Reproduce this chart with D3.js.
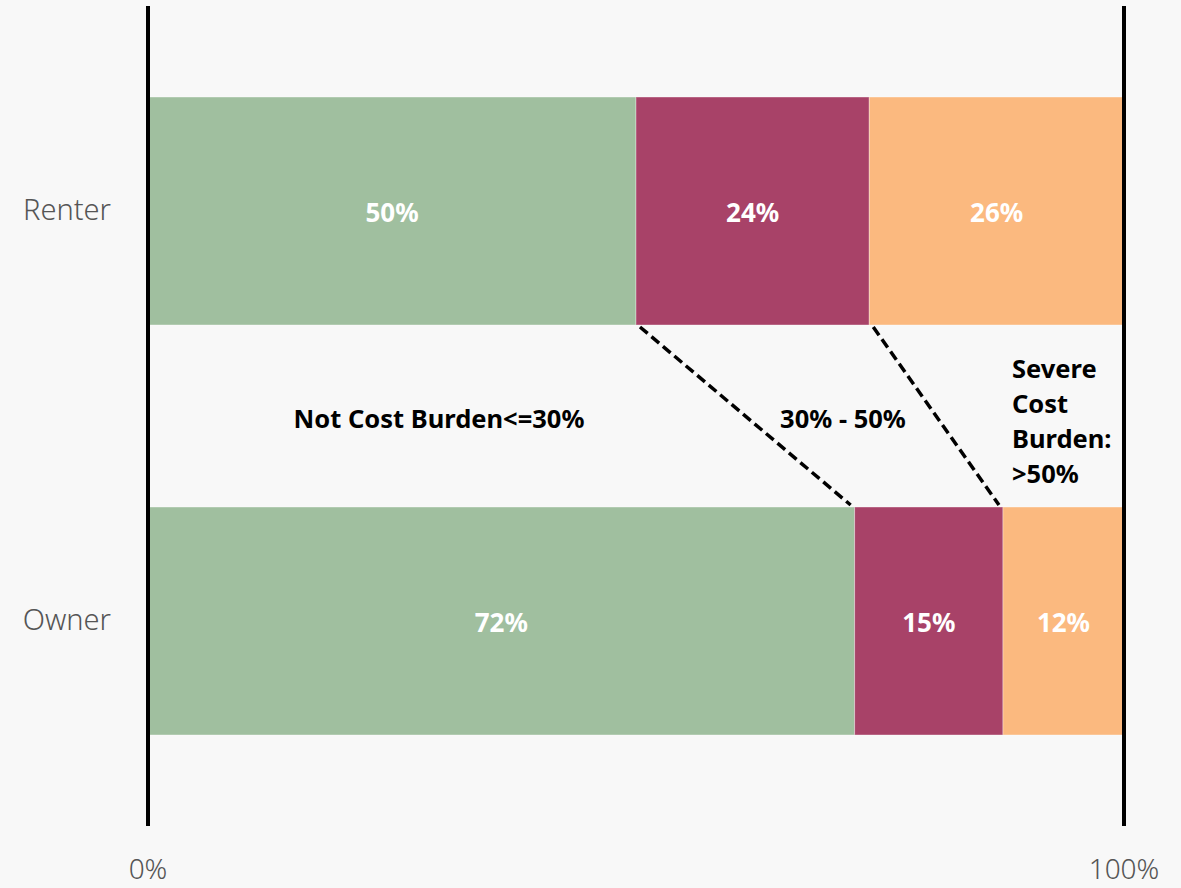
<!DOCTYPE html>
<html><head><meta charset="utf-8">
<script src="https://cdn.jsdelivr.net/npm/d3@7"></script>
<style>
html,body{margin:0;padding:0;background:#f8f8f8;}
svg{display:block;font-family:"Noto Sans",sans-serif;}
</style></head>
<body>
<svg id="chart" width="1181" height="888"></svg>
<script>
const categories = ["Renter", "Owner"];
const seriesNames = ["Not Cost Burden<=30%", "30% - 50%", "Severe Cost Burden: >50%"];
const renterValues = [50, 23.9, 26.1];
const ownerValues = [72.4, 15.2, 12.4];
const valueLabels = [["50%", "24%", "26%"], ["72%", "15%", "12%"]];
const colors = ["#a0bf9f", "#a84268", "#fbb97f"];
const tickLabels = ["0%", "100%"];
const tickValues = [0, 100];

const svg = d3.select("#chart");
const W = 1181, H = 888;
svg.append("rect").attr("width", W).attr("height", H).attr("fill", "#f8f8f8");

const x = d3.scaleLinear().domain([0, 100]).range([148, 1124]);
const y = d3.scaleBand().domain(categories).range([6, 826]).paddingInner(0.444).paddingOuter(0.222);

const rows = [renterValues, ownerValues].map((vals, i) => {
  let acc = 0;
  return vals.map((v, j) => { const d = {cat: categories[i], x0: acc, x1: acc + v, s: j, label: valueLabels[i][j]}; acc += v; return d; });
});

// bars
rows.forEach(row => {
  svg.append("g").selectAll("rect").data(row).join("rect")
    .attr("x", d => x(d.x0)).attr("y", d => y(d.cat))
    .attr("width", d => x(d.x1) - x(d.x0)).attr("height", y.bandwidth())
    .attr("fill", d => colors[d.s])
    .attr("stroke", "rgba(255,255,255,0.35)").attr("stroke-width", 1);
  svg.append("g").selectAll("text").data(row).join("text")
    .attr("x", d => x((d.x0 + d.x1) / 2)).attr("y", d => y(d.cat) + y.bandwidth() / 2 + 11)
    .attr("text-anchor", "middle").attr("fill", "#fff").attr("font-weight", "bold")
    .attr("font-size", 26).text(d => d.label);
});

// connector dashed lines
[1, 2].forEach(j => {
  svg.append("line")
    .attr("x1", x(rows[0][j].x0) + 4).attr("y1", y("Renter") + y.bandwidth() + 2)
    .attr("x2", x(rows[1][j].x0) - 4).attr("y2", y("Owner") - 2)
    .attr("stroke", "#000").attr("stroke-width", 3.5).attr("stroke-dasharray", "10,5");
});

// vertical axis lines
svg.append("g").selectAll("line").data(tickValues).join("line")
  .attr("x1", d => x(d)).attr("x2", d => x(d)).attr("y1", 6).attr("y2", 826)
  .attr("stroke", "#000").attr("stroke-width", 4);

// tick labels
svg.append("g").selectAll("text").data(tickValues).join("text")
  .attr("x", d => x(d)).attr("y", 879).attr("text-anchor", "middle")
  .attr("fill", "#555").attr("font-size", 28).attr("font-weight", 300)
  .text((d, i) => tickLabels[i]);

// category labels
svg.append("g").selectAll("text").data(categories).join("text")
  .attr("x", 111).attr("y", d => y(d) + y.bandwidth() / 2 + 9).attr("text-anchor", "end")
  .attr("fill", "#555").attr("font-size", 29).attr("font-weight", 300)
  .text(d => d);

// series annotations
const annY = 428;
const fs = 25.5;
svg.append("text").attr("x", 439).attr("y", annY).attr("text-anchor", "middle")
  .attr("font-weight", "bold").attr("font-size", fs).attr("fill", "#000").text(seriesNames[0]);
svg.append("text").attr("x", 843).attr("y", annY).attr("text-anchor", "middle")
  .attr("font-weight", "bold").attr("font-size", fs).attr("fill", "#000").text(seriesNames[1]);
const sev = svg.append("text").attr("x", 1012).attr("y", 378)
  .attr("font-weight", "bold").attr("font-size", fs).attr("fill", "#000");
["Severe", "Cost", "Burden:", ">50%"].forEach((t, i) => {
  sev.append("tspan").attr("x", 1012).attr("dy", i === 0 ? 0 : 35).text(t);
});
</script>
</body></html>
